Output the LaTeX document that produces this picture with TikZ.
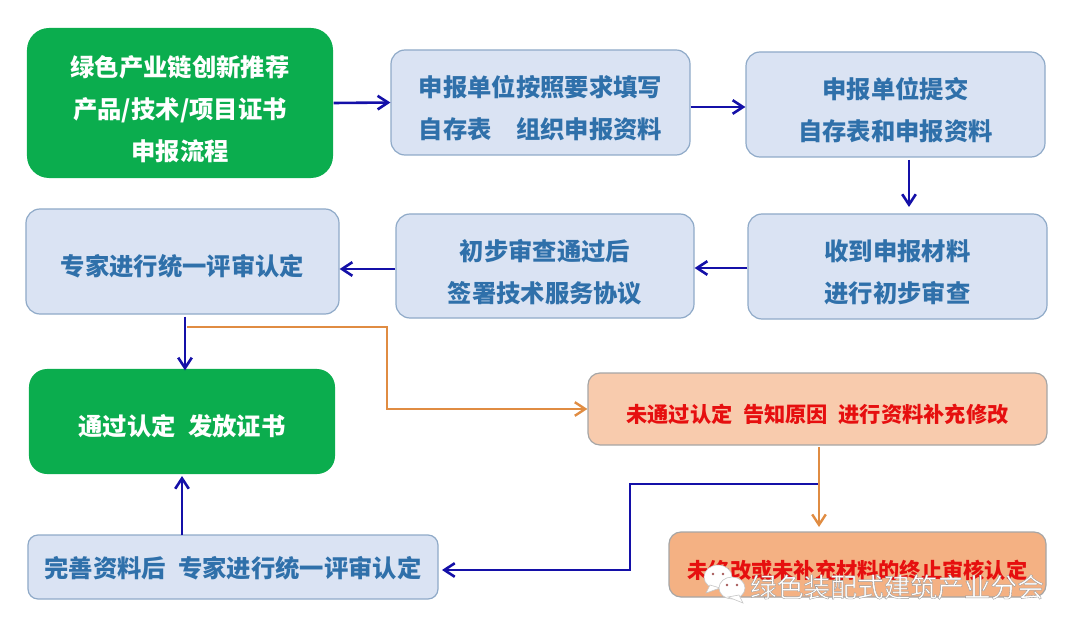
\documentclass[tikz,border=0pt]{standalone}
\usepackage{fontspec}
\setmainfont{Noto Sans CJK SC}
\usepackage{xcolor}
\usetikzlibrary{arrows.meta,positioning,calc}
\definecolor{bxblue}{HTML}{DAE3F3}
\definecolor{bxedge}{HTML}{8FAAC8}
\definecolor{bxgreen}{HTML}{0BAD4E}
\definecolor{bxpeach}{HTML}{F8CBAD}
\definecolor{bxorange}{HTML}{F4B183}
\definecolor{txblue}{HTML}{2F70AA}
\definecolor{txred}{HTML}{E60F0F}
\definecolor{lnblue}{HTML}{1410A8}
\definecolor{lnorange}{HTML}{E08C42}
\newcommand{\tp}{\rule{0pt}{23.5pt}}

\begin{document}
\begin{tikzpicture}[x=0.25mm,y=-0.25mm,
  toppad/.style={execute at begin node={\rule{0pt}{#1}}},
  box/.style={draw=bxedge,line width=0.3mm,rounded corners=3.5mm,inner sep=0pt,align=center,
    fill=bxblue,text=txblue,font=\fontsize{17.3}{30}\selectfont\bfseries},
  gbox/.style={box,draw=none,fill=bxgreen,text=white,rounded corners=5.5mm},
  rbox/.style={box,draw=gray!70,rounded corners=3mm,fill=bxpeach,text=txred,font=\fontsize{15.1}{26}\selectfont\bfseries,toppad=21pt},
  arr/.style={-{Straight Barb[length=2.6mm,width=3.4mm]},line width=0.65mm,lnblue},
  oarr/.style={-{Straight Barb[length=2.6mm,width=3.4mm]},line width=0.6mm,lnorange}]
\useasboundingbox (0,0) rectangle (1080,634);
\node[gbox,minimum width=76.5mm,minimum height=37.5mm] (bxTitle) at (180,103) {\tp 绿色产业链创新推荐\\产品/技术/项目证书\\申报流程};
\node[box,minimum width=74.75mm,minimum height=26.25mm] (bxFill) at (540.5,102.5) {\tp 申报单位按照要求填写\\自存表\quad 组织申报资料};
\node[box,minimum width=74.75mm,minimum height=26.25mm] (bxSubmit) at (895.5,104.5) {\tp 申报单位提交\\自存表和申报资料};
\node[box,minimum width=74.75mm,minimum height=26.25mm] (bxRecv) at (897.5,266.5) {\tp 收到申报材料\\进行初步审查};
\node[box,minimum width=74.5mm,minimum height=26mm] (bxSign) at (545,266) {\tp 初步审查通过后\\签署技术服务协议};
\node[box,toppad=22pt,minimum width=78.25mm,minimum height=26.25mm] (bxExpert) at (182.5,261.5) {专家进行统一评审认定};
\node[gbox,toppad=22pt,rounded corners=4.5mm,minimum width=76.5mm,minimum height=26.25mm] (bxPass) at (182,421.5) {通过认定\enspace 发放证书};
\node[rbox,minimum width=114.75mm,minimum height=18mm] (bxFail) at (817.5,409) {未通过认定\enspace 告知原因\enspace 进行资料补充修改};
\node[rbox,fill=bxorange,toppad=20pt,minimum width=94.25mm,minimum height=16.25mm] (bxStop) at (857.5,564.5) {未修改或未补充材料的终止审核认定};
\node[box,toppad=17pt,rounded corners=2.5mm,minimum width=102.5mm,minimum height=16mm] (bxRedo) at (233,567) {完善资料后\enspace 专家进行统一评审认定};
% connectors of the first rows
\draw[arr] (bxTitle.east)--(bxFill.west);
\draw[arr] (bxFill.east |- 0,107)--(bxSubmit.west |- 0,107);
\draw[arr] (909,160)--(909,207);
\draw[arr] (bxRecv.west |- 0,268)--(bxSign.east |- 0,268);
\draw[arr] (bxSign.west |- 0,269)--(bxExpert.east |- 0,269);
\coordinate (exDown) at ($(bxExpert.south)+(2.5,2)$);
\draw[arr] (exDown)--($(exDown |- bxPass.north)+(0,2)$);
\coordinate (orStart) at (187,327);
\draw[oarr] (orStart)--(387,327)--(387,409)--(bxFail.west);
\coordinate (flDown) at (819,447);
\draw[oarr] (flDown)--(819,527);
\coordinate (blStart) at (818,484);
\draw[arr] (blStart)--(630,484)--(630,570)--(442,570);
\draw[arr] (182,535)--(182,476);
% watermark
\fill[white,draw=gray!45,line width=0.15mm] (718,577) ellipse (14 and 12);
\fill[white,draw=gray!45,line width=0.15mm] (706,593)--(710,585)--(720,588)--cycle;
\fill[white,draw=gray!45,line width=0.15mm] (732,588) ellipse (13 and 11);
\fill[white,draw=gray!45,line width=0.15mm] (743,603)--(728,597)--(739,595)--cycle;
\fill[gray!70!red] (713,574) circle (1.4) (723,574) circle (1.4) (727,585) circle (1.4) (737,585) circle (1.4);
\node[text=white,font=\fontsize{19}{22}\selectfont] (wmText) at (897,587)
  {\special{pdf:code q 2 Tr 0.25 w 0.6 G}绿色装配式建筑产业分会\special{pdf:code Q}};
\end{tikzpicture}
\end{document}
